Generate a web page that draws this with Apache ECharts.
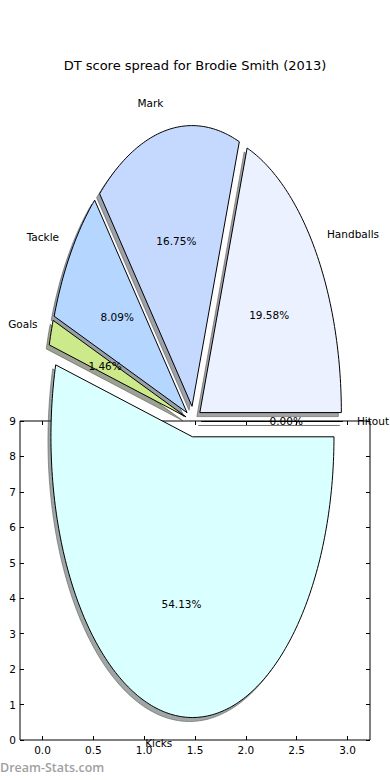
<!DOCTYPE html>
<html><head><meta charset="utf-8">
<script src="https://cdn.jsdelivr.net/npm/echarts@6/dist/echarts.min.js"></script>
<style>html,body{margin:0;padding:0;background:#fff}#c{width:390px;height:780px}</style>
</head><body><div id="c"></div>
<script>
// ---- data ----
const categories = ['Handballs', 'Mark', 'Tackle', 'Goals', 'Kicks', 'Hitout'];
const percents = [19.58, 16.75, 8.09, 1.46, 54.13, 0.00];
const xTickValues = [0, 0.5, 1, 1.5, 2, 2.5, 3];
const yTickValues = [0, 1, 2, 3, 4, 5, 6, 7, 8, 9];
const titleText = 'DT score spread for Brodie Smith (2013)';
const watermarkText = 'Dream-Stats.com';

// ---- style / layout ----
const sliceColors = ['#ebf1ff', '#c5d9ff', '#b4d6ff', '#cdea8b', '#daffff', '#ffe0e0'];
const PIE = { cx: 1.485, cy: 8.986, rx: 1.392, ry: 7.92, explode: 0.055, labelDist: 1.1, pctDist: 0.6 };
const SHADOW_DX = -3, SHADOW_DY = 4;
const FONT = '"DejaVu Sans", sans-serif';
const LABEL_SIZE = 10.5;

const total = percents.reduce((a, b) => a + b, 0);
const starts = [];
{ let acc = 0; percents.forEach(v => { starts.push(acc); acc += v; }); }

function angles(i) {
  const a0 = starts[i] / total * Math.PI * 2;
  const a1 = (starts[i] + percents[i]) / total * Math.PI * 2;
  return [a0, a1, (a0 + a1) / 2];
}
function wedgePoints(i, api, dx, dy) {
  const [a0, a1, am] = angles(i);
  const ox = PIE.cx + PIE.explode * PIE.rx * Math.cos(am);
  const oy = PIE.cy + PIE.explode * PIE.ry * Math.sin(am);
  const pts = [];
  const apex = api.coord([ox, oy]);
  pts.push([apex[0] + dx, apex[1] + dy]);
  const n = Math.max(1, Math.ceil((a1 - a0) / (Math.PI / 180)));
  for (let k = 0; k <= n; k++) {
    const t = a0 + (a1 - a0) * k / n;
    const p = api.coord([ox + PIE.rx * Math.cos(t), oy + PIE.ry * Math.sin(t)]);
    pts.push([p[0] + dx, p[1] + dy]);
  }
  return pts;
}
function shadowColor(hex) {
  const r = parseInt(hex.slice(1, 3), 16), g = parseInt(hex.slice(3, 5), 16), b = parseInt(hex.slice(5, 7), 16);
  return 'rgba(' + Math.round(r * 0.3) + ',' + Math.round(g * 0.3) + ',' + Math.round(b * 0.3) + ',0.5)';
}

const sliceData = percents.map((v, i) => [i, v]);

function makeAxis(pos, isX, showLabels) {
  const ticks = isX ? xTickValues : yTickValues;
  const ax = {
    type: 'value', position: pos,
    min: isX ? -0.2213 : 0, max: isX ? 3.2213 : 9,
    axisLine: { show: false, onZero: false }, splitLine: { show: false },
    axisTick: { show: true, inside: true, length: 4, customValues: ticks, lineStyle: { color: '#000', width: 1 } },
    axisLabel: showLabels ? { show: true, customValues: ticks, margin: 4, color: '#000', fontSize: LABEL_SIZE, fontFamily: FONT,
      formatter: isX ? (v => v.toFixed(1)) : (v => String(v)) } : { show: false }
  };
  if (!isX) ax.interval = 1;
  return ax;
}

const chart = echarts.init(document.getElementById('c'), null, { renderer: 'svg', width: 390, height: 780 });
chart.setOption({
  animation: false,
  backgroundColor: '#fff',
  textStyle: { fontFamily: FONT },
  title: {
    text: titleText, left: 'center', top: 54,
    textStyle: { fontSize: 13, fontWeight: 'normal', color: '#000', fontFamily: FONT }
  },
  grid: { left: 20, right: 20, top: 421, bottom: 40, show: true, borderColor: '#000', borderWidth: 1, backgroundColor: 'transparent' },
  xAxis: [makeAxis('bottom', true, true), makeAxis('top', true, false)],
  yAxis: [makeAxis('left', false, true), makeAxis('right', false, false)],
  graphic: [{
    type: 'text', left: 0, top: 761,
    style: { text: watermarkText, fill: '#a0a0a0', font: '600 12.5px "Open Sans", sans-serif' }
  }],
  series: [{
    type: 'custom', name: 'shadow', z: 3, clip: false, silent: true,
    xAxisIndex: 0, yAxisIndex: 0, data: sliceData,
    renderItem: (params, api) => {
      const i = params.dataIndex;
      const c = shadowColor(sliceColors[i]);
      return { type: 'polygon', shape: { points: wedgePoints(i, api, SHADOW_DX, SHADOW_DY) },
        style: { fill: c, stroke: c, lineWidth: 1 } };
    }
  }, {
    type: 'custom', name: 'wedges', z: 4, clip: false, silent: true,
    xAxisIndex: 0, yAxisIndex: 0, data: sliceData,
    renderItem: (params, api) => {
      const i = params.dataIndex;
      return { type: 'polygon', shape: { points: wedgePoints(i, api, 0, 0) },
        style: { fill: sliceColors[i], stroke: '#000', lineWidth: 1, lineJoin: 'miter' } };
    }
  }, {
    type: 'custom', name: 'labels', z: 5, clip: false, silent: true,
    xAxisIndex: 0, yAxisIndex: 0, data: sliceData,
    renderItem: (params, api) => {
      const i = params.dataIndex;
      const am = angles(i)[2];
      const ox = PIE.cx + PIE.explode * PIE.rx * Math.cos(am);
      const oy = PIE.cy + PIE.explode * PIE.ry * Math.sin(am);
      const lp = api.coord([ox + PIE.labelDist * PIE.rx * Math.cos(am), oy + PIE.labelDist * PIE.ry * Math.sin(am)]);
      const pp = api.coord([ox + PIE.pctDist * PIE.rx * Math.cos(am), oy + PIE.pctDist * PIE.ry * Math.sin(am)]);
      return { type: 'group', children: [
        { type: 'text', x: lp[0], y: lp[1],
          style: { text: categories[i], fill: '#000', font: LABEL_SIZE + 'px ' + FONT,
            align: Math.cos(am) > 0 ? 'left' : 'right', verticalAlign: 'middle' } },
        { type: 'text', x: pp[0], y: pp[1],
          style: { text: percents[i].toFixed(2) + '%', fill: '#000', font: LABEL_SIZE + 'px ' + FONT,
            align: 'center', verticalAlign: 'middle' } }
      ] };
    }
  }]
});
</script>
</body></html>
